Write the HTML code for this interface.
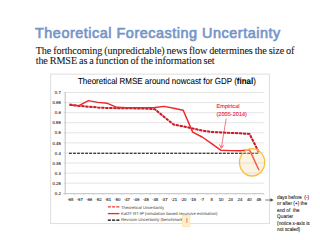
<!DOCTYPE html>
<html><head><meta charset="utf-8"><style>
html,body{margin:0;padding:0;background:#fff;width:320px;height:240px;overflow:hidden}
svg{position:absolute;left:0;top:0;font-family:"Liberation Sans",sans-serif;text-rendering:geometricPrecision}
.t{position:absolute;left:35px;top:24.5px;font:14.4px "Liberation Sans",sans-serif;letter-spacing:0.53px;-webkit-text-stroke:0.65px #7595c9;color:#7595c9;white-space:nowrap}
.b{position:absolute;left:35.7px;top:45.55px;font:10.2px/10.25px "Liberation Serif",serif;letter-spacing:-0.12px;word-spacing:-0.45px;color:#161616;-webkit-text-stroke:0.08px #161616;white-space:nowrap}
</style></head><body>
<svg width="320" height="240" viewBox="0 0 320 240">
<rect x="50.75" y="74.1" width="218.6" height="149.6" fill="#fff" stroke="#d0d0d0" stroke-width="0.7"/>
<line x1="63.5" y1="92.50" x2="263.8" y2="92.50" stroke="#dadada" stroke-width="0.7"/>
<line x1="63.5" y1="102.58" x2="263.8" y2="102.58" stroke="#dadada" stroke-width="0.7"/>
<line x1="63.5" y1="112.65" x2="263.8" y2="112.65" stroke="#dadada" stroke-width="0.7"/>
<line x1="63.5" y1="122.72" x2="263.8" y2="122.72" stroke="#dadada" stroke-width="0.7"/>
<line x1="63.5" y1="132.80" x2="263.8" y2="132.80" stroke="#dadada" stroke-width="0.7"/>
<line x1="63.5" y1="142.88" x2="263.8" y2="142.88" stroke="#dadada" stroke-width="0.7"/>
<line x1="63.5" y1="152.95" x2="263.8" y2="152.95" stroke="#dadada" stroke-width="0.7"/>
<line x1="63.5" y1="163.02" x2="263.8" y2="163.02" stroke="#dadada" stroke-width="0.7"/>
<line x1="63.5" y1="173.10" x2="263.8" y2="173.10" stroke="#dadada" stroke-width="0.7"/>
<line x1="63.5" y1="183.18" x2="263.8" y2="183.18" stroke="#dadada" stroke-width="0.7"/>
<line x1="65.2" y1="92.2" x2="65.2" y2="193.7" stroke="#b0b0b0" stroke-width="0.8"/>
<line x1="63.5" y1="193.7" x2="263.8" y2="193.7" stroke="#b0b0b0" stroke-width="0.8"/>
<line x1="65.00" y1="193.7" x2="65.00" y2="195.2" stroke="#c4c4c4" stroke-width="0.5"/>
<line x1="74.47" y1="193.7" x2="74.47" y2="195.2" stroke="#c4c4c4" stroke-width="0.5"/>
<line x1="83.95" y1="193.7" x2="83.95" y2="195.2" stroke="#c4c4c4" stroke-width="0.5"/>
<line x1="93.42" y1="193.7" x2="93.42" y2="195.2" stroke="#c4c4c4" stroke-width="0.5"/>
<line x1="102.90" y1="193.7" x2="102.90" y2="195.2" stroke="#c4c4c4" stroke-width="0.5"/>
<line x1="112.38" y1="193.7" x2="112.38" y2="195.2" stroke="#c4c4c4" stroke-width="0.5"/>
<line x1="121.85" y1="193.7" x2="121.85" y2="195.2" stroke="#c4c4c4" stroke-width="0.5"/>
<line x1="131.32" y1="193.7" x2="131.32" y2="195.2" stroke="#c4c4c4" stroke-width="0.5"/>
<line x1="140.80" y1="193.7" x2="140.80" y2="195.2" stroke="#c4c4c4" stroke-width="0.5"/>
<line x1="150.27" y1="193.7" x2="150.27" y2="195.2" stroke="#c4c4c4" stroke-width="0.5"/>
<line x1="159.75" y1="193.7" x2="159.75" y2="195.2" stroke="#c4c4c4" stroke-width="0.5"/>
<line x1="169.22" y1="193.7" x2="169.22" y2="195.2" stroke="#c4c4c4" stroke-width="0.5"/>
<line x1="178.70" y1="193.7" x2="178.70" y2="195.2" stroke="#c4c4c4" stroke-width="0.5"/>
<line x1="188.18" y1="193.7" x2="188.18" y2="195.2" stroke="#c4c4c4" stroke-width="0.5"/>
<line x1="197.65" y1="193.7" x2="197.65" y2="195.2" stroke="#c4c4c4" stroke-width="0.5"/>
<line x1="207.12" y1="193.7" x2="207.12" y2="195.2" stroke="#c4c4c4" stroke-width="0.5"/>
<line x1="216.60" y1="193.7" x2="216.60" y2="195.2" stroke="#c4c4c4" stroke-width="0.5"/>
<line x1="226.07" y1="193.7" x2="226.07" y2="195.2" stroke="#c4c4c4" stroke-width="0.5"/>
<line x1="235.55" y1="193.7" x2="235.55" y2="195.2" stroke="#c4c4c4" stroke-width="0.5"/>
<line x1="245.03" y1="193.7" x2="245.03" y2="195.2" stroke="#c4c4c4" stroke-width="0.5"/>
<line x1="254.50" y1="193.7" x2="254.50" y2="195.2" stroke="#c4c4c4" stroke-width="0.5"/>
<line x1="263.98" y1="193.7" x2="263.98" y2="195.2" stroke="#c4c4c4" stroke-width="0.5"/>
<text x="60.8" y="94.15" text-anchor="end" font-size="4.3" fill="#262626" stroke="#262626" stroke-width="0.1">0.7</text>
<text x="60.8" y="104.23" text-anchor="end" font-size="4.3" fill="#262626" stroke="#262626" stroke-width="0.1">0.65</text>
<text x="60.8" y="114.30" text-anchor="end" font-size="4.3" fill="#262626" stroke="#262626" stroke-width="0.1">0.6</text>
<text x="60.8" y="124.38" text-anchor="end" font-size="4.3" fill="#262626" stroke="#262626" stroke-width="0.1">0.55</text>
<text x="60.8" y="134.45" text-anchor="end" font-size="4.3" fill="#262626" stroke="#262626" stroke-width="0.1">0.5</text>
<text x="60.8" y="144.53" text-anchor="end" font-size="4.3" fill="#262626" stroke="#262626" stroke-width="0.1">0.45</text>
<text x="60.8" y="154.60" text-anchor="end" font-size="4.3" fill="#262626" stroke="#262626" stroke-width="0.1">0.4</text>
<text x="60.8" y="164.67" text-anchor="end" font-size="4.3" fill="#262626" stroke="#262626" stroke-width="0.1">0.35</text>
<text x="60.8" y="174.75" text-anchor="end" font-size="4.3" fill="#262626" stroke="#262626" stroke-width="0.1">0.3</text>
<text x="60.8" y="184.83" text-anchor="end" font-size="4.3" fill="#262626" stroke="#262626" stroke-width="0.1">0.25</text>
<text x="60.8" y="194.90" text-anchor="end" font-size="4.3" fill="#262626" stroke="#262626" stroke-width="0.1">0.2</text>
<text x="70.30" y="201.4" text-anchor="middle" font-size="4.3" fill="#262626" stroke="#262626" stroke-width="0.1">-68</text>
<text x="79.72" y="201.4" text-anchor="middle" font-size="4.3" fill="#262626" stroke="#262626" stroke-width="0.1">-67</text>
<text x="89.15" y="201.4" text-anchor="middle" font-size="4.3" fill="#262626" stroke="#262626" stroke-width="0.1">-66</text>
<text x="98.58" y="201.4" text-anchor="middle" font-size="4.3" fill="#262626" stroke="#262626" stroke-width="0.1">-52</text>
<text x="108.00" y="201.4" text-anchor="middle" font-size="4.3" fill="#262626" stroke="#262626" stroke-width="0.1">-51</text>
<text x="117.42" y="201.4" text-anchor="middle" font-size="4.3" fill="#262626" stroke="#262626" stroke-width="0.1">-50</text>
<text x="126.85" y="201.4" text-anchor="middle" font-size="4.3" fill="#262626" stroke="#262626" stroke-width="0.1">-47</text>
<text x="136.28" y="201.4" text-anchor="middle" font-size="4.3" fill="#262626" stroke="#262626" stroke-width="0.1">-46</text>
<text x="145.70" y="201.4" text-anchor="middle" font-size="4.3" fill="#262626" stroke="#262626" stroke-width="0.1">-45</text>
<text x="155.12" y="201.4" text-anchor="middle" font-size="4.3" fill="#262626" stroke="#262626" stroke-width="0.1">-38</text>
<text x="164.55" y="201.4" text-anchor="middle" font-size="4.3" fill="#262626" stroke="#262626" stroke-width="0.1">-37</text>
<text x="173.98" y="201.4" text-anchor="middle" font-size="4.3" fill="#262626" stroke="#262626" stroke-width="0.1">-21</text>
<text x="183.40" y="201.4" text-anchor="middle" font-size="4.3" fill="#262626" stroke="#262626" stroke-width="0.1">-20</text>
<text x="192.82" y="201.4" text-anchor="middle" font-size="4.3" fill="#262626" stroke="#262626" stroke-width="0.1">-19</text>
<text x="202.25" y="201.4" text-anchor="middle" font-size="4.3" fill="#262626" stroke="#262626" stroke-width="0.1">-7</text>
<text x="211.68" y="201.4" text-anchor="middle" font-size="4.3" fill="#262626" stroke="#262626" stroke-width="0.1">8</text>
<text x="221.10" y="201.4" text-anchor="middle" font-size="4.3" fill="#262626" stroke="#262626" stroke-width="0.1">10</text>
<text x="230.53" y="201.4" text-anchor="middle" font-size="4.3" fill="#262626" stroke="#262626" stroke-width="0.1">23</text>
<text x="239.95" y="201.4" text-anchor="middle" font-size="4.3" fill="#262626" stroke="#262626" stroke-width="0.1">24</text>
<text x="249.38" y="201.4" text-anchor="middle" font-size="4.3" fill="#262626" stroke="#262626" stroke-width="0.1">40</text>
<text x="258.80" y="201.4" text-anchor="middle" font-size="4.3" fill="#262626" stroke="#262626" stroke-width="0.1">45</text>
<line x1="69" y1="153.3" x2="259.4" y2="153.3" stroke="#000" stroke-width="1.1" stroke-dasharray="2.8,1.25"/>
<polyline points="69.50,104.60 78.97,105.90 88.45,106.70 97.92,107.50 107.40,108.00 116.88,108.20 126.35,108.30 135.82,108.40 145.30,108.60 154.77,109.20 164.25,117.00 173.72,124.60 183.20,126.30 192.68,128.50 202.15,130.60 211.62,132.00 221.10,132.40 230.57,132.90 240.05,133.30 249.53,133.90 259.00,152.60" fill="none" stroke="#f0a0a0" stroke-width="1.2"/>
<polyline points="69.50,104.60 78.97,105.90 88.45,106.70 97.92,107.50 107.40,108.00 116.88,108.20 126.35,108.30 135.82,108.40 145.30,108.60 154.77,109.20 164.25,117.00 173.72,124.60 183.20,126.30 192.68,128.50 202.15,130.60 211.62,132.00 221.10,132.40 230.57,132.90 240.05,133.30 249.53,133.90 259.00,152.60" fill="none" stroke="#c81a28" stroke-width="2.0" stroke-dasharray="3,1"/>
<polyline points="69.50,105.30 78.97,105.60 88.45,100.60 97.92,102.40 107.40,103.30 116.88,107.30 126.35,107.60 135.82,107.60 145.30,107.60 154.77,107.50 164.25,106.40 173.72,108.20 183.20,110.20 192.68,132.10 202.15,137.00 211.62,143.70 221.10,150.30 230.57,150.60 240.05,150.80 249.53,149.90 259.00,170.30" fill="none" stroke="#ee2828" stroke-width="1.45" stroke-linejoin="round"/>
<ellipse cx="252.1" cy="162.3" rx="12.6" ry="13.7" fill="rgba(246,214,160,0.3)" stroke="#f3c242" stroke-width="1.3"/>
<text x="216.5" y="107.8" font-size="5.6" fill="#ee2030" stroke="#ee2030" stroke-width="0.1">Empirical</text>
<text x="216.5" y="116.3" font-size="5.6" fill="#ee2030" stroke="#ee2030" stroke-width="0.1">(2005-2014)</text>
<line x1="226.2" y1="118.5" x2="221.4" y2="147.5" stroke="#f04050" stroke-width="0.7"/>
<path d="M219.4,144.4 L221.4,148.3 L223.5,144.9" fill="none" stroke="#f04050" stroke-width="0.8"/>
<line x1="107.8" y1="206.9" x2="119.4" y2="206.9" stroke="#f03a3a" stroke-width="1.1" stroke-dasharray="3.1,1.15"/>
<line x1="107.8" y1="213.6" x2="119.4" y2="213.6" stroke="#ff2020" stroke-width="1.3"/>
<line x1="107.8" y1="220.1" x2="119.4" y2="220.1" stroke="#000" stroke-width="1.2" stroke-dasharray="3.1,1.15"/>
<text x="121" y="208.5" font-size="4.2" fill="#404040">Theoretical Uncertainty</text>
<text x="121" y="215.3" font-size="4.2" fill="#404040">Kal2F RT-IP (simulation based recursive estimation)</text>
<text x="121" y="221.2" font-size="4.2" fill="#404040">Revision Uncertainty (benchmark)</text>
<rect x="182.5" y="215.6" width="7.5" height="11.2" fill="#fdf0c8" stroke="#f8dc98" stroke-width="0.5"/>
<line x1="186.9" y1="218" x2="186.9" y2="223" stroke="#e83030" stroke-width="0.6"/>
<text x="77.9" y="84.1" font-size="8.8" textLength="178" lengthAdjust="spacingAndGlyphs" fill="#000" stroke="#000" stroke-width="0.06">Theoretical RMSE around nowcast for GDP (<tspan font-weight="bold">final</tspan>)</text>
<line x1="265.2" y1="200" x2="271.5" y2="200" stroke="#404040" stroke-width="0.7"/>
<path d="M270.5,198.3 L273.6,200 L270.5,201.7 Z" fill="#404040"/>
<g transform="translate(277.1,0) scale(0.89,1)">
<text x="0" y="198.80" font-size="5.3" fill="#1a1a1a" stroke="#1a1a1a" stroke-width="0.1" xml:space="preserve">days before  (-)</text>
<text x="0" y="205.25" font-size="5.3" fill="#1a1a1a" stroke="#1a1a1a" stroke-width="0.1" xml:space="preserve">or after (+) the</text>
<text x="0" y="211.70" font-size="5.3" fill="#1a1a1a" stroke="#1a1a1a" stroke-width="0.1" xml:space="preserve">end of  the</text>
<text x="0" y="218.15" font-size="5.3" fill="#1a1a1a" stroke="#1a1a1a" stroke-width="0.1" xml:space="preserve">Quarter</text>
<text x="0" y="224.60" font-size="5.3" fill="#1a1a1a" stroke="#1a1a1a" stroke-width="0.1" xml:space="preserve">(notice x-axis is</text>
<text x="0" y="231.05" font-size="5.3" fill="#1a1a1a" stroke="#1a1a1a" stroke-width="0.1" xml:space="preserve">not scaled)</text>
</g>
</svg>
<div class="t">Theoretical Forecasting Uncertainty</div>
<div class="b">The forthcoming (unpredictable) news flow determines the size of<br>the RMSE as a function of the information set</div>
</body></html>
